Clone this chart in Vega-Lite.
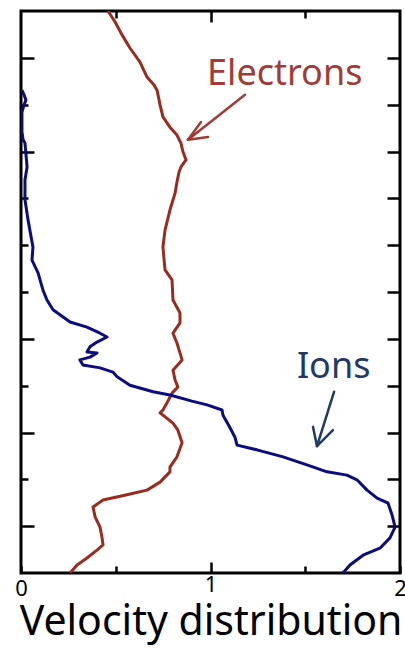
{
  "$schema": "https://vega.github.io/schema/vega-lite/v6.json",
  "width": 379,
  "height": 562,
  "autosize": {"type": "none"},
  "padding": {"left": 21, "top": 11, "right": 5, "bottom": 76},
  "background": "white",
  "config": {
    "view": {"stroke": "black", "strokeWidth": 3},
    "axis": {"grid": false, "domain": false, "tickColor": "black", "tickWidth": 2.5, "labelFont": "Noto Sans", "titleFont": "Noto Sans", "labelColor": "black", "titleColor": "black"}
  },
  "datasets": {
    "curves": [
      {"species": "Electrons", "v": 0.459, "z": 11.00},
      {"species": "Electrons", "v": 0.496, "z": 10.77},
      {"species": "Electrons", "v": 0.533, "z": 10.49},
      {"species": "Electrons", "v": 0.575, "z": 10.21},
      {"species": "Electrons", "v": 0.628, "z": 9.91},
      {"species": "Electrons", "v": 0.665, "z": 9.59},
      {"species": "Electrons", "v": 0.702, "z": 9.42},
      {"species": "Electrons", "v": 0.718, "z": 9.31},
      {"species": "Electrons", "v": 0.734, "z": 8.99},
      {"species": "Electrons", "v": 0.749, "z": 8.74},
      {"species": "Electrons", "v": 0.786, "z": 8.52},
      {"species": "Electrons", "v": 0.823, "z": 8.35},
      {"species": "Electrons", "v": 0.844, "z": 8.18},
      {"species": "Electrons", "v": 0.855, "z": 7.99},
      {"species": "Electrons", "v": 0.871, "z": 7.82},
      {"species": "Electrons", "v": 0.844, "z": 7.67},
      {"species": "Electrons", "v": 0.834, "z": 7.56},
      {"species": "Electrons", "v": 0.823, "z": 7.35},
      {"species": "Electrons", "v": 0.813, "z": 7.11},
      {"species": "Electrons", "v": 0.786, "z": 6.75},
      {"species": "Electrons", "v": 0.760, "z": 6.32},
      {"species": "Electrons", "v": 0.749, "z": 5.96},
      {"species": "Electrons", "v": 0.760, "z": 5.47},
      {"species": "Electrons", "v": 0.797, "z": 5.26},
      {"species": "Electrons", "v": 0.802, "z": 4.83},
      {"species": "Electrons", "v": 0.839, "z": 4.55},
      {"species": "Electrons", "v": 0.839, "z": 4.34},
      {"species": "Electrons", "v": 0.802, "z": 4.12},
      {"species": "Electrons", "v": 0.823, "z": 3.91},
      {"species": "Electrons", "v": 0.850, "z": 3.55},
      {"species": "Electrons", "v": 0.802, "z": 3.33},
      {"species": "Electrons", "v": 0.813, "z": 3.12},
      {"species": "Electrons", "v": 0.828, "z": 2.97},
      {"species": "Electrons", "v": 0.797, "z": 2.84},
      {"species": "Electrons", "v": 0.770, "z": 2.63},
      {"species": "Electrons", "v": 0.749, "z": 2.48},
      {"species": "Electrons", "v": 0.734, "z": 2.42},
      {"species": "Electrons", "v": 0.802, "z": 2.20},
      {"species": "Electrons", "v": 0.828, "z": 2.05},
      {"species": "Electrons", "v": 0.850, "z": 1.78},
      {"species": "Electrons", "v": 0.823, "z": 1.48},
      {"species": "Electrons", "v": 0.786, "z": 1.26},
      {"species": "Electrons", "v": 0.786, "z": 1.16},
      {"species": "Electrons", "v": 0.734, "z": 0.94},
      {"species": "Electrons", "v": 0.665, "z": 0.77},
      {"species": "Electrons", "v": 0.559, "z": 0.67},
      {"species": "Electrons", "v": 0.433, "z": 0.56},
      {"species": "Electrons", "v": 0.380, "z": 0.41},
      {"species": "Electrons", "v": 0.391, "z": 0.20},
      {"species": "Electrons", "v": 0.417, "z": -0.02},
      {"species": "Electrons", "v": 0.427, "z": -0.23},
      {"species": "Electrons", "v": 0.433, "z": -0.40},
      {"species": "Electrons", "v": 0.401, "z": -0.51},
      {"species": "Electrons", "v": 0.348, "z": -0.68},
      {"species": "Electrons", "v": 0.296, "z": -0.83},
      {"species": "Electrons", "v": 0.259, "z": -1.00},
      {"species": "Ions", "v": 0.005, "z": 9.31},
      {"species": "Ions", "v": 0.016, "z": 9.21},
      {"species": "Ions", "v": 0.026, "z": 9.10},
      {"species": "Ions", "v": 0.016, "z": 8.99},
      {"species": "Ions", "v": 0.005, "z": 8.84},
      {"species": "Ions", "v": 0.005, "z": 8.61},
      {"species": "Ions", "v": 0.005, "z": 8.42},
      {"species": "Ions", "v": 0.011, "z": 8.25},
      {"species": "Ions", "v": 0.021, "z": 8.18},
      {"species": "Ions", "v": 0.032, "z": 7.67},
      {"species": "Ions", "v": 0.021, "z": 7.39},
      {"species": "Ions", "v": 0.021, "z": 6.97},
      {"species": "Ions", "v": 0.037, "z": 6.54},
      {"species": "Ions", "v": 0.063, "z": 5.96},
      {"species": "Ions", "v": 0.058, "z": 5.68},
      {"species": "Ions", "v": 0.090, "z": 5.41},
      {"species": "Ions", "v": 0.116, "z": 5.04},
      {"species": "Ions", "v": 0.137, "z": 4.83},
      {"species": "Ions", "v": 0.169, "z": 4.62},
      {"species": "Ions", "v": 0.259, "z": 4.36},
      {"species": "Ions", "v": 0.348, "z": 4.25},
      {"species": "Ions", "v": 0.417, "z": 4.12},
      {"species": "Ions", "v": 0.454, "z": 4.04},
      {"species": "Ions", "v": 0.401, "z": 3.93},
      {"species": "Ions", "v": 0.364, "z": 3.83},
      {"species": "Ions", "v": 0.348, "z": 3.72},
      {"species": "Ions", "v": 0.401, "z": 3.70},
      {"species": "Ions", "v": 0.364, "z": 3.61},
      {"species": "Ions", "v": 0.311, "z": 3.55},
      {"species": "Ions", "v": 0.327, "z": 3.44},
      {"species": "Ions", "v": 0.417, "z": 3.38},
      {"species": "Ions", "v": 0.485, "z": 3.29},
      {"species": "Ions", "v": 0.507, "z": 3.19},
      {"species": "Ions", "v": 0.575, "z": 3.01},
      {"species": "Ions", "v": 0.697, "z": 2.87},
      {"species": "Ions", "v": 0.786, "z": 2.80},
      {"species": "Ions", "v": 0.902, "z": 2.67},
      {"species": "Ions", "v": 0.982, "z": 2.59},
      {"species": "Ions", "v": 1.061, "z": 2.48},
      {"species": "Ions", "v": 1.066, "z": 2.37},
      {"species": "Ions", "v": 1.087, "z": 2.22},
      {"species": "Ions", "v": 1.103, "z": 2.10},
      {"species": "Ions", "v": 1.129, "z": 1.90},
      {"species": "Ions", "v": 1.140, "z": 1.73},
      {"species": "Ions", "v": 1.245, "z": 1.63},
      {"species": "Ions", "v": 1.383, "z": 1.48},
      {"species": "Ions", "v": 1.509, "z": 1.31},
      {"species": "Ions", "v": 1.615, "z": 1.16},
      {"species": "Ions", "v": 1.720, "z": 1.09},
      {"species": "Ions", "v": 1.773, "z": 0.99},
      {"species": "Ions", "v": 1.826, "z": 0.77},
      {"species": "Ions", "v": 1.879, "z": 0.60},
      {"species": "Ions", "v": 1.937, "z": 0.49},
      {"species": "Ions", "v": 1.958, "z": 0.24},
      {"species": "Ions", "v": 1.974, "z": -0.02},
      {"species": "Ions", "v": 1.947, "z": -0.25},
      {"species": "Ions", "v": 1.894, "z": -0.47},
      {"species": "Ions", "v": 1.805, "z": -0.62},
      {"species": "Ions", "v": 1.736, "z": -0.83},
      {"species": "Ions", "v": 1.699, "z": -1.00}
    ],
    "arrows": [
      {"species": "Electrons", "v": 1.182, "z": 9.21, "v2": 0.881, "z2": 8.25},
      {"species": "Electrons", "v": 0.881, "z": 8.25, "v2": 0.950, "z2": 8.63},
      {"species": "Electrons", "v": 0.881, "z": 8.25, "v2": 0.987, "z2": 8.31},
      {"species": "Ions", "v": 1.652, "z": 2.87, "v2": 1.562, "z2": 1.71},
      {"species": "Ions", "v": 1.562, "z": 1.71, "v2": 1.541, "z2": 2.12},
      {"species": "Ions", "v": 1.562, "z": 1.71, "v2": 1.646, "z2": 2.05}
    ],
    "labels": [
      {"species": "Electrons", "v": 0.982, "z": 9.42},
      {"species": "Ions", "v": 1.456, "z": 3.16}
    ]
  },
  "layer": [
    {
      "data": {"name": "curves"},
      "mark": {"type": "line", "strokeWidth": 3, "clip": true, "strokeJoin": "round"},
      "encoding": {
        "x": {
          "field": "v", "type": "quantitative",
          "scale": {"domain": [0, 2], "nice": false, "zero": false},
          "axis": {
            "orient": "bottom",
            "title": "Velocity distribution",
            "titleFontSize": 41, "titleFontWeight": "normal", "titlePadding": 3,
            "values": [0, 0.5, 1, 1.5, 2],
            "labelExpr": "datum.value % 1 === 0 ? format(datum.value, 'd') : ''",
            "labelFontSize": 22, "labelPadding": 12, "labelOverlap": false, "labelBound": false, "labelFlush": false,
            "tickSize": {"condition": {"test": "datum.value === 1", "value": -11}, "value": -7},
            "encode": {"labels": {"update": {"fontSize": {"value": 22}}}}
          }
        },
        "y": {
          "field": "z", "type": "quantitative",
          "scale": {"domain": [-1, 11], "nice": false, "zero": false},
          "axis": {
            "orient": "left", "title": null, "labels": false,
            "values": [0, 1, 2, 3, 4, 5, 6, 7, 8, 9, 10],
            "tickSize": {"condition": {"test": "indexof([0, 2, 4, 8, 10], datum.value) >= 0", "value": -13}, "value": -7}
          }
        },
        "order": {"field": "z", "type": "quantitative"},
        "color": {
          "field": "species", "type": "nominal", "legend": null,
          "scale": {"domain": ["Electrons", "Ions"], "range": ["#9A2B1F", "#0C0C82"]}
        }
      }
    },
    {
      "data": {"name": "arrows"},
      "mark": {"type": "rule", "strokeWidth": 2.5, "strokeCap": "round"},
      "encoding": {
        "x": {
          "field": "v", "type": "quantitative",
          "axis": {
            "orient": "top", "title": null, "labels": false,
            "values": [0.5, 1, 1.5],
            "tickSize": {"condition": {"test": "datum.value === 1", "value": -11}, "value": -7}
          }
        },
        "y": {
          "field": "z", "type": "quantitative",
          "axis": {
            "orient": "right", "title": null, "labels": false,
            "values": [0, 1, 2, 3, 4, 5, 6, 7, 8, 9, 10],
            "tickSize": -13
          }
        },
        "x2": {"field": "v2"},
        "y2": {"field": "z2"},
        "color": {
          "field": "species", "type": "nominal", "legend": null,
          "scale": {"domain": ["Electrons", "Ions"], "range": ["#A33A35", "#1F3A66"]}
        }
      }
    },
    {
      "data": {"name": "labels"},
      "mark": {"type": "text", "font": "Noto Sans", "fontSize": 36, "align": "left", "baseline": "alphabetic"},
      "encoding": {
        "x": {"field": "v", "type": "quantitative", "axis": null},
        "y": {"field": "z", "type": "quantitative", "axis": null},
        "text": {"field": "species"},
        "color": {
          "field": "species", "type": "nominal", "legend": null,
          "scale": {"domain": ["Electrons", "Ions"], "range": ["#A33A35", "#1F3A66"]}
        }
      }
    }
  ],
  "resolve": {
    "axis": {"x": "independent", "y": "independent"},
    "scale": {"color": "independent"}
  }
}
